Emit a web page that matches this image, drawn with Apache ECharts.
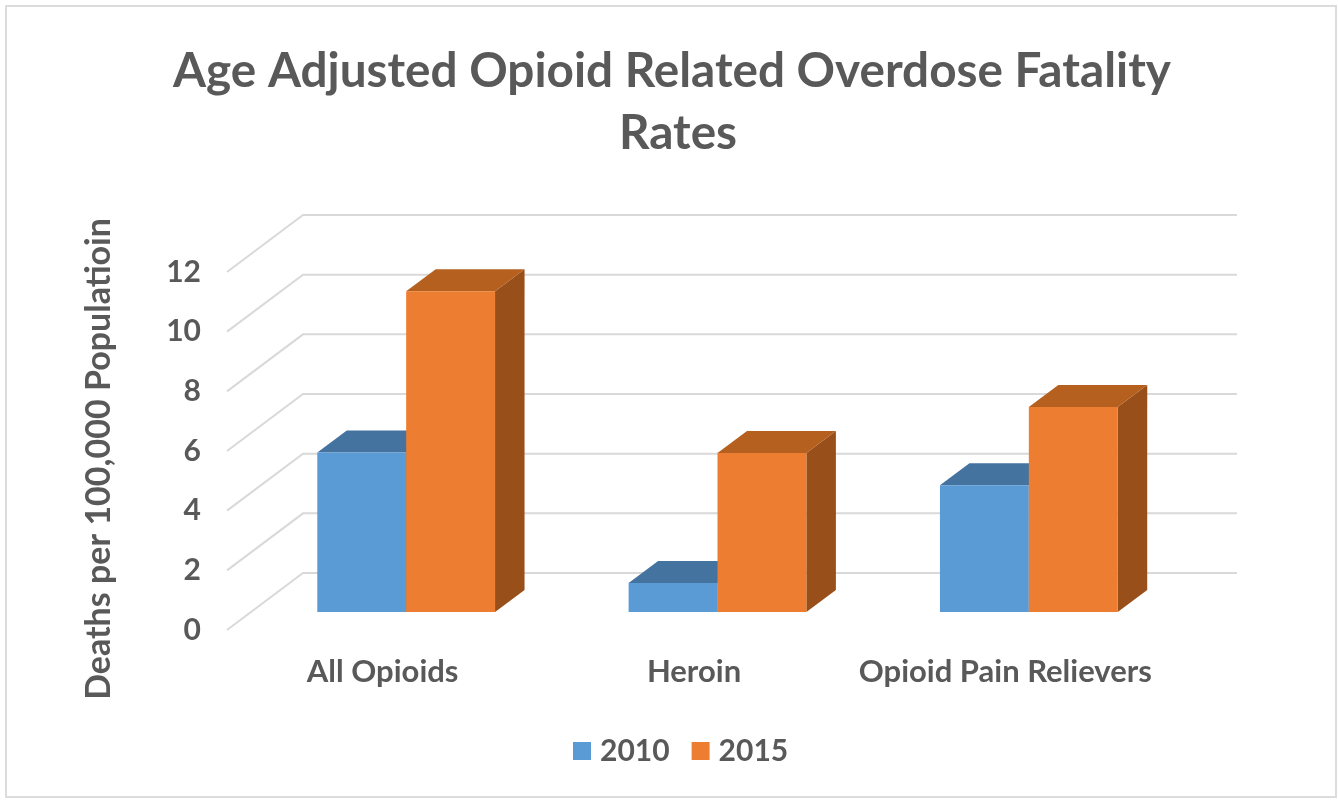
<!DOCTYPE html>
<html>
<head>
<meta charset="utf-8">
<script src="https://cdn.jsdelivr.net/npm/echarts@6/dist/echarts.min.js"></script>
<style>html,body{margin:0;padding:0;background:#fff}#c{width:1338px;height:803px}</style>
</head>
<body>
<div id="c"></div>
<script>
const titleLines = ['Age Adjusted Opioid Related Overdose Fatality', 'Rates'];
const yAxisTitle = 'Deaths per 100,000 Populatioin';
const categories = ['All Opioids', 'Heroin', 'Opioid Pain Relievers'];
const seriesNames = ['2010', '2015'];
const values2010 = [5.35, 0.97, 4.25];
const values2015 = [10.75, 5.33, 6.87];
const gridTicks = [0, 2, 4, 6, 8, 10, 12];

const FONT = 'Lato, sans-serif';
const TEXT = '#595959';
const GRID = '#D9D9D9';
const WALL = { dx: 76, dy: 57 };      // floor depth front plane -> back wall
const BAR_BASE = { dx: 23.5, dy: 18 }; // bar front face offset from the front plane
const BAR_DEPTH = { dx: 29.5, dy: 22 };
const BAR_BAND = 0.2855;
const PALETTE = [
  { front: '#5B9BD5', top: '#44739F', side: '#3A6A94' },
  { front: '#ED7D31', top: '#B5601F', side: '#984F1A' }
];

function wallLine(params, api) {
  const cs = params.coordSys;
  const y = api.coord([0, api.value(0)])[1];
  return {
    type: 'polyline',
    shape: { points: [[cs.x, y], [cs.x + WALL.dx, y - WALL.dy], [cs.x + cs.width + WALL.dx, y - WALL.dy]] },
    style: { stroke: GRID, lineWidth: 2, fill: null }
  };
}

function barRenderer(seriesIdx) {
  return function (params, api) {
    const c = PALETTE[seriesIdx];
    const cat = api.value(0);
    const w = api.size([1, 0])[0] * BAR_BAND;
    const center = api.coord([cat, 0])[0] + BAR_BASE.dx;
    const x0 = center + (seriesIdx === 0 ? -w : 0);
    const x1 = x0 + w;
    const yb = api.coord([cat, 0])[1] - BAR_BASE.dy;
    const yt = api.coord([cat, api.value(1)])[1] - BAR_BASE.dy;
    const d = BAR_DEPTH;
    return {
      type: 'group',
      children: [
        { type: 'polygon', shape: { points: [[x1, yb], [x1 + d.dx, yb - d.dy], [x1 + d.dx, yt - d.dy], [x1, yt]] }, style: { fill: c.side } },
        { type: 'polygon', shape: { points: [[x0, yt], [x0 + d.dx, yt - d.dy], [x1 + d.dx, yt - d.dy], [x1, yt]] }, style: { fill: c.top } },
        { type: 'rect', shape: { x: x0, y: yt, width: w, height: yb - yt }, style: { fill: c.front } }
      ]
    };
  };
}

const titleStyle = { color: TEXT, fontFamily: FONT, fontSize: 47.7, fontWeight: 'bold' };
const chart = echarts.init(document.getElementById('c'), null, { renderer: 'canvas' });
chart.setOption({
  animation: false,
  backgroundColor: '#fff',
  graphic: [{
    type: 'rect', silent: true, z: -1,
    shape: { x: 6, y: 6, width: 1330, height: 791 },
    style: { fill: '#fff', stroke: '#DCDCDC', lineWidth: 2 }
  }],
  title: [
    { text: titleLines[0], left: 667, top: 43, textAlign: 'center', textStyle: titleStyle },
    { text: titleLines[1], left: 673, top: 105, textAlign: 'center', textStyle: titleStyle }
  ],
  legend: {
    data: seriesNames,
    left: 568, top: 731,
    icon: 'rect', itemWidth: 18, itemHeight: 18, itemGap: 22,
    selectedMode: false,
    textStyle: { color: TEXT, fontFamily: FONT, fontSize: 30, fontWeight: 'bold', padding: [0, 0, 0, 4] }
  },
  grid: { left: 227, top: 272, width: 934, height: 358 },
  xAxis: {
    type: 'category', data: categories,
    axisLine: { show: false }, axisTick: { show: false },
    axisLabel: { color: TEXT, fontFamily: FONT, fontSize: 31, fontWeight: 'bold', margin: 26, interval: 0 }
  },
  yAxis: {
    type: 'value', min: 0, max: 12, interval: 2,
    name: yAxisTitle, nameLocation: 'middle', nameGap: 111, nameRotate: 90,
    nameTextStyle: { color: TEXT, fontFamily: FONT, fontSize: 34, fontWeight: 'bold', padding: [0, 16, 0, 0] },
    splitLine: { show: false }, axisLine: { show: false }, axisTick: { show: false },
    axisLabel: { color: TEXT, fontFamily: FONT, fontSize: 30, fontWeight: 'bold', margin: 26, padding: [4, 0, 0, 0] }
  },
  series: [
    { type: 'custom', z: 1, silent: true, coordinateSystem: 'cartesian2d',
      renderItem: wallLine, encode: { x: 1, y: 0 },
      data: gridTicks.map(v => [v, 0]) },
    { name: seriesNames[0], type: 'custom', z: 2, coordinateSystem: 'cartesian2d',
      renderItem: barRenderer(0), itemStyle: { color: PALETTE[0].front },
      encode: { x: 0, y: 1 }, data: values2010.map((v, i) => [i, v]) },
    { name: seriesNames[1], type: 'custom', z: 3, coordinateSystem: 'cartesian2d',
      renderItem: barRenderer(1), itemStyle: { color: PALETTE[1].front },
      encode: { x: 0, y: 1 }, data: values2015.map((v, i) => [i, v]) }
  ]
});
</script>
</body>
</html>
